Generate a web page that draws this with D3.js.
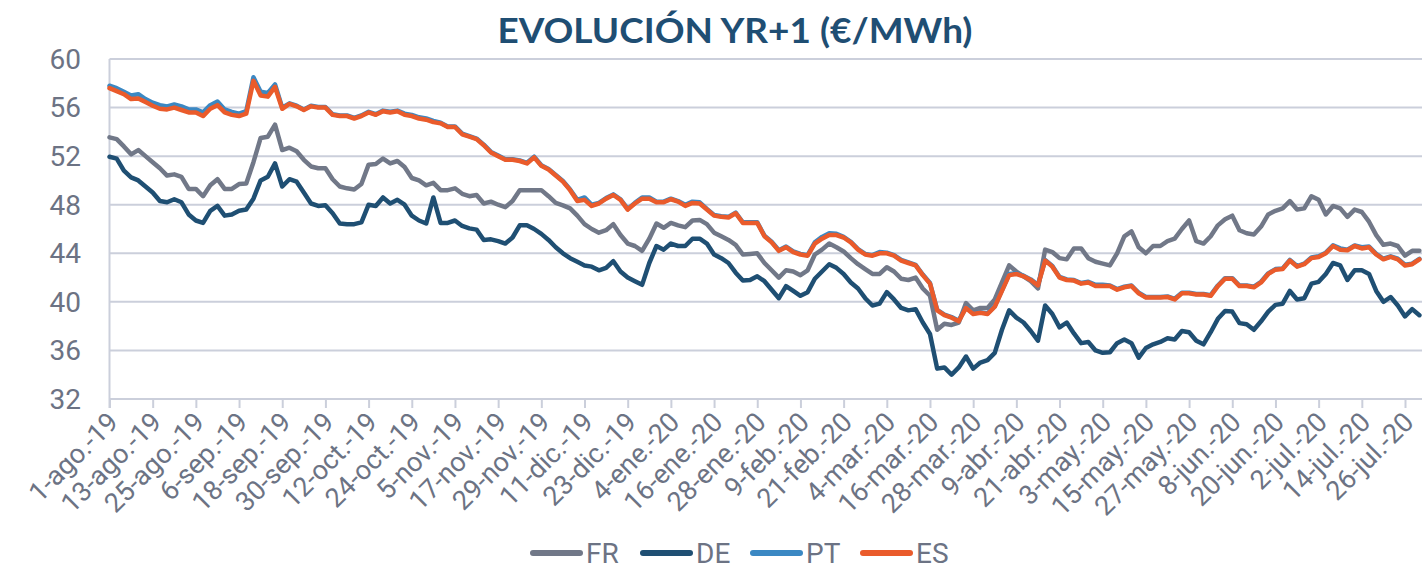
<!DOCTYPE html>
<html>
<head>
<meta charset="utf-8">
<script src="https://cdn.jsdelivr.net/npm/d3@7"></script>
<style>
  body { margin: 0; background: #fff; }
  svg { display: block; }
</style>
</head>
<body>
<div id="chart"></div>
<script>
// datos cada 2 días desde 1-ago-19
const startDate = new Date(Date.UTC(2019, 7, 1));
const endDate = new Date(Date.UTC(2020, 6, 31));
const dayStep = 2;

const seriesNames = ["FR", "DE", "PT", "ES"];
const seriesColors = ["#717888", "#1f4f73", "#3b88c3", "#ea5b2b"];

const yTicks = [32, 36, 40, 44, 48, 52, 56, 60];

const xTickLabels = ["1-ago.-19", "13-ago.-19", "25-ago.-19", "6-sep.-19", "18-sep.-19", "30-sep.-19",
  "12-oct.-19", "24-oct.-19", "5-nov.-19", "17-nov.-19", "29-nov.-19", "11-dic.-19", "23-dic.-19",
  "4-ene.-20", "16-ene.-20", "28-ene.-20", "9-feb.-20", "21-feb.-20", "4-mar.-20", "16-mar.-20",
  "28-mar.-20", "9-abr.-20", "21-abr.-20", "3-may.-20", "15-may.-20", "27-may.-20", "8-jun.-20",
  "20-jun.-20", "2-jul.-20", "14-jul.-20", "26-jul.-20"];

const fr = [
  53.55, 53.4, 52.8, 52.15, 52.5, 52.0, 51.5, 51.0, 50.4, 50.5,
  50.3, 49.3, 49.3, 48.7, 49.6, 50.1, 49.3, 49.3, 49.7, 49.75,
  51.5, 53.5, 53.6, 54.6, 52.5, 52.7, 52.4, 51.7, 51.15, 51.0,
  51.0, 50.1, 49.5, 49.35, 49.25, 49.7, 51.3, 51.35, 51.8, 51.4,
  51.6, 51.1, 50.2, 50.0, 49.6, 49.8, 49.2, 49.2, 49.35, 48.9,
  48.7, 48.8, 48.1, 48.25, 48.0, 47.8, 48.3, 49.2, 49.2, 49.2,
  49.2, 48.7, 48.15, 47.95, 47.7, 47.1, 46.4, 46.0, 45.7, 45.9,
  46.4, 45.5, 44.8, 44.6, 44.2, 45.2, 46.45, 46.1, 46.5, 46.3,
  46.15, 46.7, 46.75, 46.4, 45.7, 45.4, 45.1, 44.7, 43.9, 43.95,
  44.0, 43.2, 42.6, 42.0, 42.6, 42.5, 42.2, 42.6, 43.9, 44.3,
  44.8, 44.5, 44.15, 43.6, 43.1, 42.7, 42.3, 42.3, 42.85, 42.5,
  41.9, 41.8, 42.0, 41.1, 40.5, 37.7, 38.2, 38.1, 38.3, 39.9,
  39.3, 39.5, 39.5, 40.2, 41.6, 43.0, 42.5, 42.1, 41.7, 41.1,
  44.3, 44.1, 43.6, 43.5, 44.4, 44.4, 43.6, 43.3, 43.15, 43.0,
  44.0, 45.4, 45.8, 44.5, 44.0, 44.6, 44.6, 45.0, 45.2, 46.0,
  46.7, 45.0, 44.8, 45.4, 46.3, 46.8, 47.1, 45.9, 45.65, 45.55,
  46.2, 47.2, 47.5, 47.7, 48.3, 47.6, 47.7, 48.7, 48.4, 47.2,
  47.9, 47.7, 47.0, 47.6, 47.4, 46.6, 45.5, 44.7, 44.8, 44.6,
  43.8, 44.2, 44.2
];

const de = [
  51.95, 51.8, 50.8, 50.25, 50.0, 49.5, 49.0, 48.3, 48.2, 48.45,
  48.2, 47.2, 46.7, 46.5, 47.5, 47.9, 47.1, 47.2, 47.5, 47.6,
  48.5, 50.0, 50.3, 51.4, 49.5, 50.1, 49.9, 49.0, 48.1, 47.9,
  47.95, 47.3, 46.45, 46.4, 46.4, 46.55, 48.0, 47.9, 48.6, 48.1,
  48.4, 48.0, 47.1, 46.7, 46.45, 48.6, 46.5, 46.5, 46.7, 46.25,
  46.05, 45.95, 45.1, 45.15, 45.0, 44.8, 45.3, 46.3, 46.3, 46.0,
  45.6, 45.1, 44.5, 44.0, 43.6, 43.3, 43.0, 42.9, 42.6, 42.8,
  43.35, 42.5, 42.0, 41.7, 41.4, 43.2, 44.6, 44.3, 44.8, 44.6,
  44.6, 45.2, 45.2, 44.8, 43.9, 43.6, 43.2, 42.4, 41.75, 41.8,
  42.1, 41.7, 41.0, 40.3, 41.3, 40.9, 40.5, 40.8, 41.9, 42.5,
  43.1, 42.8, 42.3, 41.6, 41.1, 40.3, 39.7, 39.85, 40.8, 40.2,
  39.5, 39.3, 39.4, 38.3, 37.35, 34.5, 34.6, 34.0, 34.6, 35.5,
  34.5, 35.0, 35.2, 35.8, 37.7, 39.3, 38.7, 38.3, 37.6, 36.8,
  39.7, 39.0, 37.9, 38.3, 37.4, 36.6, 36.7, 36.0, 35.8, 35.85,
  36.6, 36.9, 36.6, 35.4, 36.2, 36.5, 36.7, 37.0, 36.9, 37.6,
  37.5, 36.8, 36.5, 37.5, 38.6, 39.25, 39.2, 38.25, 38.15, 37.7,
  38.4, 39.2, 39.75, 39.85, 40.9, 40.2, 40.3, 41.5, 41.65, 42.3,
  43.2, 43.0, 41.8, 42.6, 42.6, 42.3, 40.9, 40.0, 40.4, 39.7,
  38.8, 39.4, 38.9
];

const pt = [
  57.8, 57.6, 57.3, 57.0, 57.1, 56.7, 56.4, 56.2, 56.1, 56.25,
  56.1, 55.85, 55.85, 55.6, 56.2, 56.5, 55.85, 55.65, 55.5, 55.7,
  58.5, 57.3, 57.2, 57.9, 56.0, 56.35, 56.15, 55.85, 56.15, 56.05,
  56.05, 55.45, 55.35, 55.35, 55.15, 55.35, 55.65, 55.45, 55.75, 55.65,
  55.75, 55.5, 55.4, 55.2, 55.1, 54.9, 54.75, 54.45, 54.45, 53.85,
  53.65, 53.45, 52.95, 52.35, 52.05, 51.75, 51.75, 51.65, 51.45, 51.95,
  51.25, 50.95, 50.45, 49.95, 49.25, 48.4, 48.6, 48.0, 48.15, 48.55,
  48.85, 48.45, 47.65, 48.15, 48.6, 48.6, 48.25, 48.25, 48.5, 48.3,
  48.0, 48.25, 48.2, 47.65, 47.15, 47.05, 47.0, 47.35, 46.55, 46.55,
  46.55, 45.45, 44.95, 44.25, 44.55, 44.15, 43.95, 43.85, 44.9, 45.35,
  45.65, 45.6, 45.35, 44.95, 44.35, 43.95, 43.85, 44.1, 44.05, 43.85,
  43.45, 43.25, 43.05, 42.25, 41.55, 39.35, 38.95, 38.75, 38.45, 39.55,
  39.05, 39.15, 39.05, 39.65, 40.95, 42.3, 42.35, 42.15, 41.85, 41.4,
  43.45, 42.95, 42.05, 41.85, 41.8, 41.55, 41.65, 41.4, 41.4, 41.35,
  41.05, 41.25, 41.35, 40.75, 40.4, 40.4, 40.4, 40.45, 40.25, 40.75,
  40.75, 40.65, 40.65, 40.55, 41.35, 41.95, 41.95, 41.35, 41.35, 41.25,
  41.65, 42.35, 42.7, 42.75, 43.45, 42.95, 43.15, 43.65, 43.75, 44.05,
  44.65, 44.4, 44.3, 44.65, 44.5, 44.55, 43.95, 43.55, 43.75, 43.55,
  43.05, 43.15, 43.55
];

const es = [
  57.6, 57.35, 57.1, 56.7, 56.75, 56.45, 56.15, 55.9, 55.85, 56.0,
  55.8, 55.6, 55.6, 55.3, 55.9, 56.2, 55.6, 55.4, 55.3, 55.5,
  58.2, 57.0, 56.9, 57.7, 55.9, 56.3, 56.1, 55.8, 56.1, 56.0,
  56.0, 55.4, 55.3, 55.3, 55.1, 55.3, 55.6, 55.4, 55.7, 55.6,
  55.7, 55.4, 55.3, 55.1, 55.0, 54.8, 54.7, 54.4, 54.4, 53.8,
  53.6, 53.4, 52.9, 52.3, 52.0, 51.7, 51.7, 51.6, 51.4, 51.9,
  51.2, 50.9, 50.4, 49.9, 49.2, 48.3, 48.4, 47.9, 48.1, 48.5,
  48.8, 48.4, 47.6, 48.1, 48.5, 48.5, 48.2, 48.2, 48.45, 48.25,
  47.9, 48.15, 48.1, 47.6, 47.1, 47.0, 46.95, 47.3, 46.5, 46.5,
  46.5, 45.4, 44.9, 44.2, 44.5, 44.1, 43.9, 43.8, 44.8, 45.2,
  45.5, 45.5, 45.3, 44.9, 44.3, 43.9, 43.8, 44.0, 44.0, 43.8,
  43.4, 43.2, 43.0, 42.2, 41.5, 39.3, 38.9, 38.7, 38.4, 39.5,
  39.0, 39.1, 39.0, 39.6, 40.9, 42.2, 42.3, 42.1, 41.8, 41.35,
  43.4, 42.9, 42.0, 41.8, 41.75, 41.5, 41.6, 41.3, 41.3, 41.3,
  41.0, 41.2, 41.3, 40.7, 40.35, 40.35, 40.35, 40.4, 40.2, 40.7,
  40.7, 40.6, 40.6, 40.5, 41.3, 41.9, 41.9, 41.3, 41.3, 41.2,
  41.6, 42.3, 42.65, 42.7, 43.4, 42.9, 43.1, 43.6, 43.7, 44.0,
  44.6, 44.3, 44.25, 44.6, 44.4, 44.5, 43.9, 43.5, 43.7, 43.5,
  43.0, 43.1, 43.5
];

const seriesValues = [fr, de, pt, es];
const dates = fr.map((_, i) => d3.utcDay.offset(startDate, dayStep * i));
const tickDates = xTickLabels.map((_, i) => d3.utcDay.offset(startDate, 12 * i));

const width = 1422;
const height = 568;
const gridColor = "#cbcfdb";
const textColor = "#6c7384";

const svg = d3.select("#chart")
  .append("svg")
  .attr("width", width)
  .attr("height", height);

const x = d3.scaleUtc().domain([startDate, endDate]).range([109.5, 1423]);
const y = d3.scaleLinear().domain([32, 60]).range([399, 59]);

// título
svg.append("text")
  .attr("x", 735)
  .attr("y", 43)
  .attr("text-anchor", "middle")
  .attr("textLength", 475)
  .attr("lengthAdjust", "spacingAndGlyphs")
  .style("font-family", "Lato, 'Open Sans', sans-serif")
  .style("font-weight", "700")
  .style("font-size", "34px")
  .style("fill", "#1f4e73")
  .text("EVOLUCIÓN YR+1 (€/MWh)");

// rejilla horizontal
svg.append("g")
  .selectAll("line")
  .data(yTicks)
  .enter()
  .append("line")
  .attr("x1", 109.5)
  .attr("x2", width)
  .attr("y1", d => y(d))
  .attr("y2", d => y(d))
  .attr("stroke", gridColor)
  .attr("stroke-width", 2);

// eje vertical
svg.append("line")
  .attr("x1", 109.5)
  .attr("x2", 109.5)
  .attr("y1", y(60))
  .attr("y2", y(32) + 9)
  .attr("stroke", gridColor)
  .attr("stroke-width", 2);

// etiquetas eje Y
svg.append("g")
  .selectAll("text")
  .data(yTicks)
  .enter()
  .append("text")
  .attr("x", 81)
  .attr("y", d => y(d))
  .attr("dy", "0.35em")
  .attr("text-anchor", "end")
  .style("font-family", "Roboto, sans-serif")
  .style("font-size", "28px")
  .style("fill", textColor)
  .text(d => d);

// eje X
const xAxis = svg.append("g")
  .attr("transform", `translate(0,${y(32)})`)
  .call(d3.axisBottom(x)
    .tickValues(tickDates)
    .tickSize(9)
    .tickFormat((d, i) => xTickLabels[i]));

xAxis.select(".domain").remove();
xAxis.selectAll(".tick line")
  .attr("stroke", gridColor)
  .attr("stroke-width", 2);
xAxis.selectAll(".tick text")
  .attr("x", 0)
  .attr("y", 0)
  .attr("dy", "0.35em")
  .attr("transform", "translate(3,18) rotate(-45)")
  .attr("text-anchor", "end")
  .style("font-family", "Roboto, sans-serif")
  .style("font-size", "27px")
  .style("fill", textColor);

// líneas
const line = d3.line()
  .x((d, i) => x(dates[i]))
  .y(d => y(d));

svg.append("g")
  .selectAll("path")
  .data(seriesValues)
  .enter()
  .append("path")
  .attr("d", line)
  .attr("fill", "none")
  .attr("stroke", (d, i) => seriesColors[i])
  .attr("stroke-width", 4.5)
  .attr("stroke-linejoin", "round")
  .attr("stroke-linecap", "round");

// leyenda
const legend = svg.append("g")
  .selectAll("g")
  .data(seriesNames)
  .enter()
  .append("g")
  .attr("transform", (d, i) => `translate(${530 + i * 110},553)`);

legend.append("line")
  .attr("x1", 3)
  .attr("x2", 50)
  .attr("stroke", (d, i) => seriesColors[i])
  .attr("stroke-width", 6)
  .attr("stroke-linecap", "round");

legend.append("text")
  .attr("x", 56)
  .attr("dy", "0.35em")
  .style("font-family", "Roboto, sans-serif")
  .style("font-size", "28px")
  .style("fill", textColor)
  .text(d => d);
</script>
</body>
</html>
